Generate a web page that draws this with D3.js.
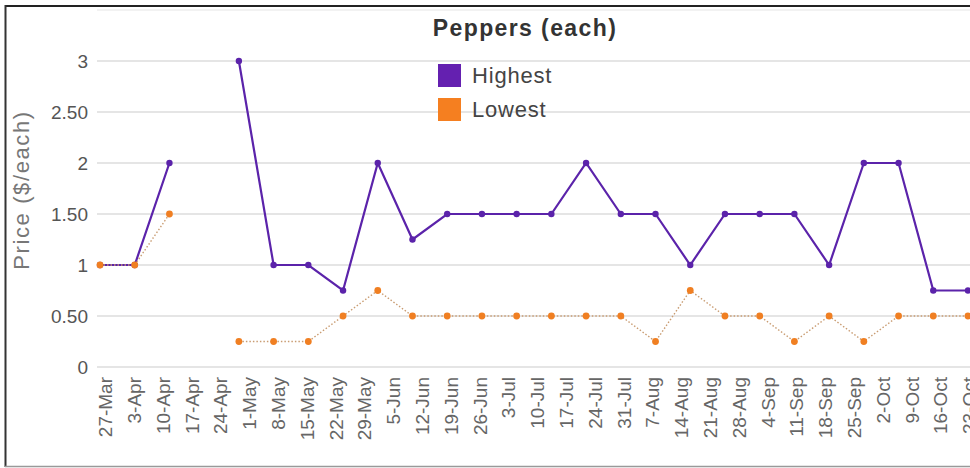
<!DOCTYPE html>
<html>
<head>
<meta charset="utf-8">
<script src="https://cdn.jsdelivr.net/npm/d3@7"></script>
<style>
  html, body { margin: 0; padding: 0; background: #fff; }
  svg { display: block; font-family: "Liberation Sans", Arial, sans-serif; }
</style>
</head>
<body>
<svg id="chart" width="970" height="468"></svg>
<script>
// Week labels along the x axis
const weekLabels = ["27-Mar","3-Apr","10-Apr","17-Apr","24-Apr","1-May","8-May","15-May","22-May","29-May",
  "5-Jun","12-Jun","19-Jun","26-Jun","3-Jul","10-Jul","17-Jul","24-Jul","31-Jul","7-Aug",
  "14-Aug","21-Aug","28-Aug","4-Sep","11-Sep","18-Sep","25-Sep","2-Oct","9-Oct","16-Oct","23-Oct"];

// Price observations ($ each); null = no reading that week
const highest = [1, 1, 2, null, 3, 1, 1, 0.75, 2, 1.25, 1.5, 1.5, 1.5, 1.5, 2, 1.5, 1.5, 1,
  1.5, 1.5, 1.5, 1, 2, 2, 0.75, 0.75];
const lowest = [1, 1, 1.5, null, 0.25, 0.25, 0.25, 0.5, 0.75, 0.5, 0.5, 0.5, 0.5, 0.5, 0.5, 0.5,
  0.25, 0.75, 0.5, 0.5, 0.25, 0.5, 0.25, 0.5, 0.5, 0.5];

const yTicks = [0, 0.5, 1, 1.5, 2, 2.5, 3];
const yTickText = ["0", "0.50", "1", "1.50", "2", "2.50", "3"];
const seriesNames = ["Highest", "Lowest"];

const purple = "#5b23aa";
const orange = "#f07f22";

const svg = d3.select("#chart");

// outer frame
svg.append("line").attr("x1", 5).attr("x2", 970).attr("y1", 6).attr("y2", 6)
  .attr("stroke", "#222").attr("stroke-width", 2);
svg.append("line").attr("x1", 5.5).attr("x2", 5.5).attr("y1", 5).attr("y2", 467)
  .attr("stroke", "#333").attr("stroke-width", 2);
svg.append("line").attr("x1", 5).attr("x2", 970).attr("y1", 466.5).attr("y2", 466.5)
  .attr("stroke", "#999").attr("stroke-width", 1.5);

const y = d3.scaleLinear().domain([0, 3.5]).range([367, 10]);
const xLabel = d3.scalePoint().domain(weekLabels).range([105, 969]);
const xData = d3.scalePoint().domain(d3.range(highest.length)).range([100, 968]);

// gridlines
svg.append("g").selectAll("line").data([...yTicks, 3.5]).join("line")
  .attr("x1", 97).attr("x2", 970)
  .attr("y1", d => y(d)).attr("y2", d => y(d))
  .attr("stroke", d => d === 3.5 ? "#eee" : "#dcdcdc").attr("stroke-width", 1.5);

// y axis
const yAxis = svg.append("g").attr("transform", "translate(88,0)")
  .call(d3.axisLeft(y).tickValues(yTicks).tickSize(0).tickPadding(0)
    .tickFormat((d, i) => yTickText[i]));
yAxis.select(".domain").remove();
yAxis.selectAll("text").attr("font-size", 19).attr("fill", "#555")
  .attr("font-family", "Liberation Sans, Arial, sans-serif");

// x axis
const xAxis = svg.append("g").attr("transform", "translate(0,377)")
  .call(d3.axisBottom(xLabel).tickSize(0).tickPadding(0));
xAxis.select(".domain").remove();
xAxis.selectAll("text")
  .attr("font-size", 19).attr("fill", "#666")
  .attr("font-family", "Liberation Sans, Arial, sans-serif")
  .attr("text-anchor", "end")
  .attr("transform", "rotate(-90)")
  .attr("x", 0).attr("y", 0).attr("dy", "0.35em");

// y axis title
svg.append("text")
  .attr("transform", "translate(29,190) rotate(-90)")
  .attr("text-anchor", "middle")
  .attr("font-size", 22).attr("letter-spacing", 1.6).attr("fill", "#777")
  .text("Price ($/each)");

// title
svg.append("text")
  .attr("x", 525).attr("y", 36).attr("text-anchor", "middle")
  .attr("font-size", 23).attr("font-weight", "bold").attr("letter-spacing", 1.4)
  .attr("fill", "#333").text("Peppers (each)");

// series
const line = d3.line()
  .defined(d => d != null)
  .x((d, i) => xData(i))
  .y(d => y(d));

svg.append("path").datum(highest)
  .attr("d", line).attr("fill", "none")
  .attr("stroke", purple).attr("stroke-width", 2.2);
svg.append("g").selectAll("circle")
  .data(highest.map((v, i) => ({ v, i })).filter(d => d.v != null)).join("circle")
  .attr("cx", d => xData(d.i)).attr("cy", d => y(d.v)).attr("r", 3.2)
  .attr("fill", purple);

svg.append("path").datum(lowest)
  .attr("d", line).attr("fill", "none")
  .attr("stroke", "#c99c72").attr("stroke-width", 1.4)
  .attr("stroke-dasharray", "1.5,2");
svg.append("g").selectAll("circle")
  .data(lowest.map((v, i) => ({ v, i })).filter(d => d.v != null)).join("circle")
  .attr("cx", d => xData(d.i)).attr("cy", d => y(d.v)).attr("r", 3.4)
  .attr("fill", orange);

// legend
const legend = svg.append("g").attr("transform", "translate(438,64)");
const items = legend.selectAll("g").data(seriesNames).join("g")
  .attr("transform", (d, i) => `translate(0,${i * 34})`);
items.append("rect").attr("width", 23).attr("height", 23)
  .attr("fill", (d, i) => i === 0 ? "#6420b0" : "#f57f20");
items.append("text").attr("x", 34).attr("y", 19)
  .attr("font-size", 22).attr("letter-spacing", 0.8).attr("fill", "#444")
  .text(d => d);
</script>
</body>
</html>
